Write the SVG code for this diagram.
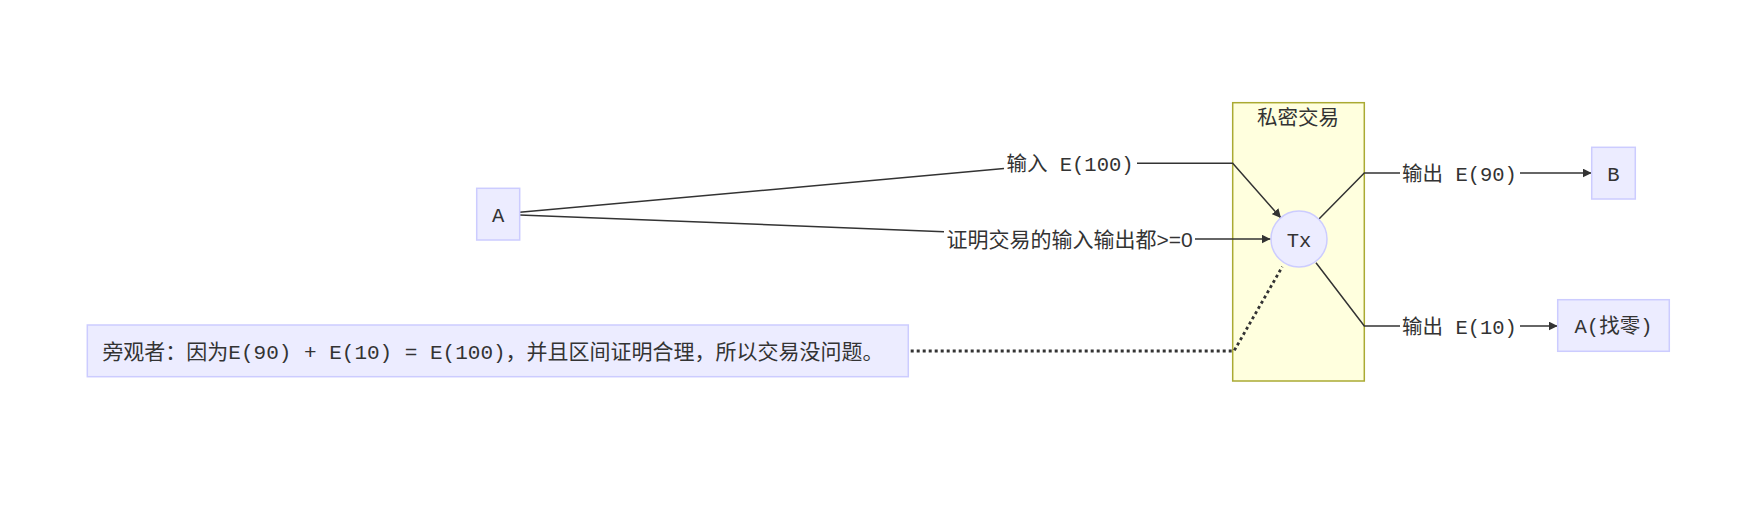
<svg xmlns="http://www.w3.org/2000/svg" width="1750" height="506" viewBox="0 0 1750 506">
<style>
.t{font-family:"Liberation Mono","Noto Sans CJK SC",monospace;fill:#333;font-size:20.5px}
.s{font-family:"Liberation Sans","Noto Sans CJK SC",sans-serif}
.node{fill:#ECECFF;stroke:#CCCCFF;stroke-width:1.5}
.edge{fill:none;stroke:#333;stroke-width:1.5}
.dot{fill:none;stroke:#333;stroke-width:2.8;stroke-dasharray:3 3}
</style>
<defs>
<marker id="arr" viewBox="0 0 10 10" refX="10" refY="5" markerWidth="9" markerHeight="9" markerUnits="userSpaceOnUse" orient="auto">
<path d="M0,0 L10,5 L0,10 z" fill="#333"/>
</marker>
</defs>
<rect width="1750" height="506" fill="#fff"/>
<g id="cluster-private">
<rect x="1232.7" y="102.7" width="131.6" height="278.3" fill="#ffffde" stroke="#aaaa33" stroke-width="1.5"/>
<text class="t" x="1298" y="124.5" text-anchor="middle">私密交易</text>
</g>
<g id="connectors">
<path class="edge" d="M519.7,212.3 L1004,168.6"/>
<path class="edge" d="M1137,163.3 L1232.7,163.3 L1281,218" marker-end="url(#arr)"/>
<path class="edge" d="M519.7,215 L944,231.7"/>
<path class="edge" d="M1195,239 L1270.5,239" marker-end="url(#arr)"/>
<path class="edge" d="M1319,219 L1364.3,173 L1400,173"/>
<path class="edge" d="M1520,173 L1591.7,173" marker-end="url(#arr)"/>
<path class="edge" d="M1316,262.7 L1364.3,326 L1400,326"/>
<path class="edge" d="M1520,326 L1557.7,326" marker-end="url(#arr)"/>
<path class="dot" d="M910.7,351 L1234,351 L1282.3,266.7"/>
<text class="t" x="1070" y="171" text-anchor="middle">输入 E(100)</text>
<text class="t" x="1069.5" y="247" text-anchor="middle" style="font-size:21px">证明交易的输入输出都<tspan class="s">&gt;=0</tspan></text>
<text class="t" x="1459.5" y="181" text-anchor="middle">输出 E(90)</text>
<text class="t" x="1459.5" y="334" text-anchor="middle">输出 E(10)</text>
</g>
<g id="node-A">
<rect class="node" x="476.7" y="188.3" width="43" height="51.7"/>
<text class="t" x="498.2" y="221.5" text-anchor="middle">A</text>
</g>
<g id="node-Tx">
<circle class="node" cx="1299" cy="239" r="28"/>
<text class="t" x="1299" y="246.5" text-anchor="middle">Tx</text>
</g>
<g id="node-B">
<rect class="node" x="1591.7" y="147.3" width="43.6" height="51.7"/>
<text class="t" x="1613.5" y="180.5" text-anchor="middle">B</text>
</g>
<g id="node-A2">
<rect class="node" x="1557.7" y="299.7" width="111.6" height="51.6"/>
<text class="t" x="1613.5" y="333" text-anchor="middle">A(找零)</text>
</g>
<g id="node-note">
<rect class="node" x="87.3" y="325" width="821" height="51.7"/>
<text class="t" x="493" y="359" text-anchor="middle" style="font-size:21px">旁观者：因为E(90) + E(10) = E(100)，并且区间证明合理，所以交易没问题。</text>
</g>
</svg>
